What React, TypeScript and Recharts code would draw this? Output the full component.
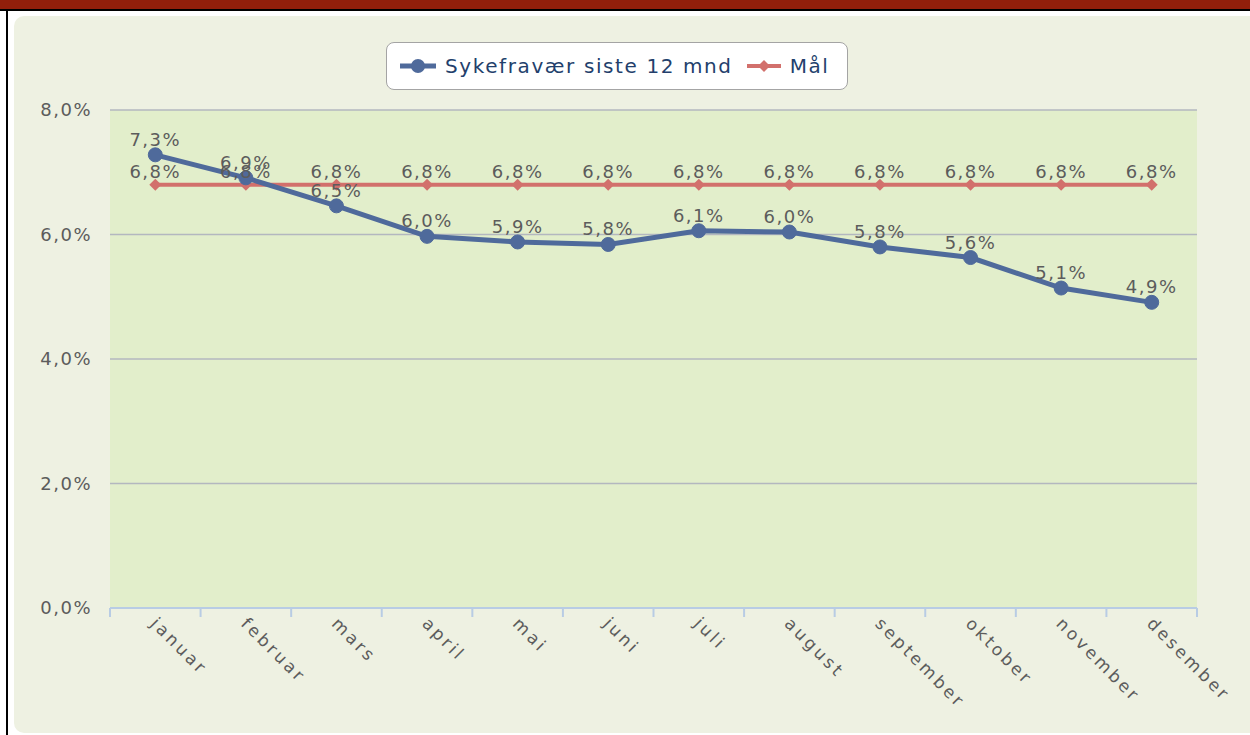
import React from "react";
import { LineChart, Line, XAxis, YAxis, CartesianGrid, LabelList } from "recharts";

const months = ["januar", "februar", "mars", "april", "mai", "juni", "juli", "august", "september", "oktober", "november", "desember"];
const sickLeave = [7.28, 6.91, 6.46, 5.97, 5.88, 5.84, 6.06, 6.04, 5.8, 5.63, 5.14, 4.91];
const target = [6.8, 6.8, 6.8, 6.8, 6.8, 6.8, 6.8, 6.8, 6.8, 6.8, 6.8, 6.8];
const yTicks = [0, 2, 4, 6, 8];
const seriesNames = ["Sykefravær siste 12 mnd", "Mål"];

const data = months.map((m, i) => ({ month: m, sick: sickLeave[i], goal: target[i] }));

const BLUE = "#4f6a9b";
const RED = "#d2706c";
const TEXT = "#5c5c5c";
const FONT = "'DejaVu Sans', Verdana, sans-serif";

const fmt = (v: any) => Number(v).toFixed(1).replace(".", ",") + "%";

const Diamond = (props: any) => {
  const { cx, cy } = props;
  if (cx == null || cy == null) return null;
  const s = 6;
  return <polygon points={`${cx},${cy - s} ${cx + s},${cy} ${cx},${cy + s} ${cx - s},${cy}`} fill={RED} />;
};

const XTick = (props: any) => {
  const { x, y, payload, index, visibleTicksCount } = props;
  const off = payload && payload.offset ? payload.offset : 45.3;
  const isLast = index === (visibleTicksCount ? visibleTicksCount - 1 : 11);
  return (
    <g>
      <line x1={x - off} y1={y - 9} x2={x - off} y2={y} stroke="#b8cce4" strokeWidth={2} />
      {isLast && <line x1={x + off} y1={y - 9} x2={x + off} y2={y} stroke="#b8cce4" strokeWidth={2} />}
      <text
        x={0}
        y={0}
        dy={4}
        transform={`translate(${x - 3},${y + 5}) rotate(45)`}
        textAnchor="start"
        fill={TEXT}
        fontSize={17}
        fontFamily={FONT}
        letterSpacing={3}
      >
        {payload.value}
      </text>
    </g>
  );
};

export default function App() {
  return (
    <div style={{ position: "fixed", left: 0, top: 0, width: 1250, height: 735, background: "#ffffff", overflow: "hidden", fontFamily: FONT }}>
      <div style={{ position: "absolute", left: 0, top: 0, width: 1250, height: 9, background: "#921f0b" }} />
      <div style={{ position: "absolute", left: 0, top: 9, width: 1250, height: 2, background: "#000" }} />
      <div style={{ position: "absolute", left: 6, top: 9, width: 2, height: 726, background: "#000" }} />
      <div style={{ position: "absolute", left: 14, top: 16, width: 1260, height: 717, background: "#eef1e2", borderRadius: 10 }} />
      <div style={{ position: "absolute", left: 0, top: 0 }}>
        <LineChart width={1250} height={735} data={data} margin={{ top: 110, right: 53, bottom: 27, left: 30 }}>
          <CartesianGrid vertical={false} stroke="#b3b7bf" strokeWidth={1.5} fill="#e2eecb" />
          <XAxis
            dataKey="month"
            scale="band"
            height={100}
            axisLine={{ stroke: "#b8cce4", strokeWidth: 2 }}
            tickLine={false}
            tickSize={9}
            tickMargin={0}
            interval={0}
            tick={<XTick />}
          />
          <YAxis
            width={80}
            domain={[0, 8]}
            ticks={yTicks}
            axisLine={false}
            tickLine={false}
            tickMargin={12}
            tickFormatter={fmt}
            tick={{ fill: TEXT, fontSize: 18, fontFamily: FONT, letterSpacing: 1.5 }}
          />
          <Line
            dataKey="goal"
            name={seriesNames[1]}
            stroke={RED}
            strokeWidth={4}
            dot={<Diamond />}
            isAnimationActive={false}
          >
            <LabelList dataKey="goal" position="top" offset={7} formatter={fmt} fill={TEXT} fontSize={18} fontFamily={FONT} letterSpacing={1.5} />
          </Line>
          <Line
            dataKey="sick"
            name={seriesNames[0]}
            stroke={BLUE}
            strokeWidth={5}
            dot={{ r: 7, fill: BLUE, stroke: BLUE, strokeWidth: 1 }}
            isAnimationActive={false}
          >
            <LabelList dataKey="sick" position="top" offset={9} formatter={fmt} fill={TEXT} fontSize={18} fontFamily={FONT} letterSpacing={1.5} />
          </Line>
        </LineChart>
      </div>
      <div
        style={{
          position: "absolute",
          left: 386,
          top: 42,
          width: 462,
          height: 48,
          background: "#ffffff",
          border: "1.5px solid #a4a4a4",
          borderRadius: 8,
          boxSizing: "border-box",
          display: "flex",
          alignItems: "center",
          color: "#233f6c",
          fontSize: 20,
          letterSpacing: 1.6,
          whiteSpace: "nowrap",
        }}
      >
        <svg width={36} height={20} style={{ marginLeft: 13 }}>
          <line x1={0} y1={10} x2={36} y2={10} stroke={BLUE} strokeWidth={5} />
          <circle cx={18} cy={10} r={7} fill={BLUE} />
        </svg>
        <span style={{ marginLeft: 9 }}>{seriesNames[0]}</span>
        <svg width={34} height={20} style={{ marginLeft: 14 }}>
          <line x1={0} y1={10} x2={34} y2={10} stroke={RED} strokeWidth={4} />
          <polygon points="17,4 23,10 17,16 11,10" fill={RED} />
        </svg>
        <span style={{ marginLeft: 9 }}>{seriesNames[1]}</span>
      </div>
    </div>
  );
}
